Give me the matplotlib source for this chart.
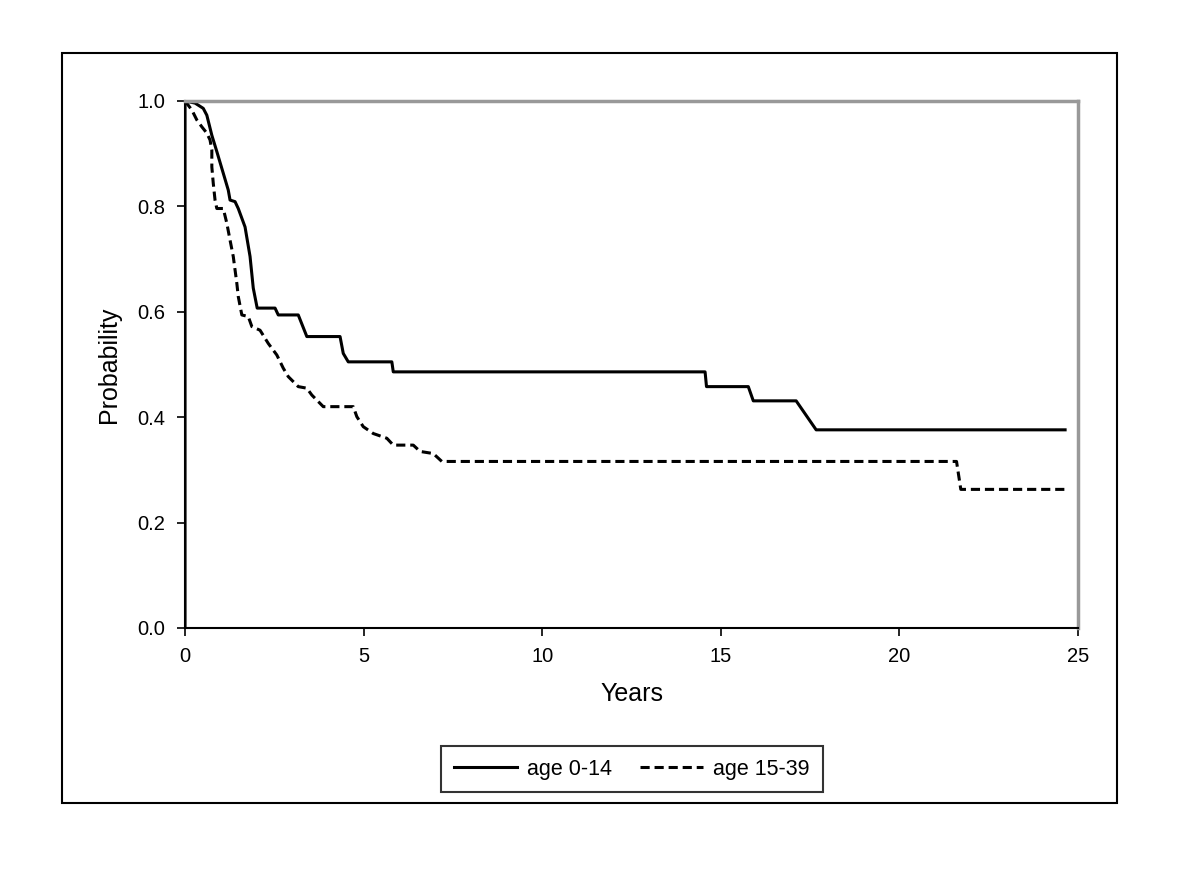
import matplotlib
matplotlib.use('Agg')
import matplotlib.pyplot as plt
from matplotlib.patches import Rectangle

plt.rcParams['font.family'] = ['Liberation Sans', 'DejaVu Sans']

# age 0-14 survival curve
years_young = [0, 0, 0.28, 0.51, 0.61, 0.75, 0.89, 1.07, 1.21, 1.26, 1.40, 1.49, 1.68, 1.82, 1.91,
               2.02, 2.52, 2.61, 3.17, 3.41, 4.34, 4.43, 4.57, 5.79, 5.83, 14.56, 14.60, 15.77,
               15.91, 17.11, 17.67, 24.64]
prob_young = [0.0, 1.0, 0.996, 0.986, 0.973, 0.935, 0.904, 0.863, 0.831, 0.812, 0.809, 0.796, 0.761,
              0.705, 0.645, 0.607, 0.607, 0.594, 0.594, 0.553, 0.553, 0.521, 0.505, 0.505, 0.486,
              0.486, 0.458, 0.458, 0.431, 0.431, 0.376, 0.376]

# age 15-39 survival curve
years_old = [0, 0.19, 0.33, 0.47, 0.61, 0.70, 0.75, 0.75, 0.79, 0.84, 0.89, 1.07, 1.17, 1.26, 1.35,
             1.45, 1.49, 1.59, 1.77, 1.87, 2.10, 2.33, 2.57, 2.75, 2.89, 3.17, 3.41, 3.55, 3.87,
             4.71, 4.81, 4.99, 5.27, 5.65, 5.83, 6.39, 6.58, 6.95, 7.19, 21.60, 21.72, 24.64]
prob_old = [1.0, 0.983, 0.964, 0.951, 0.939, 0.926, 0.907, 0.875, 0.844, 0.812, 0.796, 0.796, 0.768,
            0.736, 0.705, 0.654, 0.629, 0.594, 0.591, 0.572, 0.565, 0.540, 0.518, 0.493, 0.477,
            0.458, 0.455, 0.442, 0.420, 0.420, 0.401, 0.382, 0.369, 0.360, 0.347, 0.347, 0.335,
            0.331, 0.316, 0.316, 0.263, 0.263]

x_ticks = [0, 5, 10, 15, 20, 25]
y_ticks = [0.0, 0.2, 0.4, 0.6, 0.8, 1.0]

fig = plt.figure(figsize=(12, 8.82), dpi=100)
ax = fig.add_axes([0.1542, 0.2880, 0.7441, 0.5975])

ax.plot(years_young, prob_young, color='black', lw=2.2, label='age 0-14')
ax.plot(years_old, prob_old, color='black', lw=2.2, dashes=(3, 1.6), label='age 15-39')

ax.set_xlim(0, 25)
ax.set_ylim(0, 1)
ax.set_xticks(x_ticks)
ax.set_yticks(y_ticks)
ax.set_yticklabels([f'{v:.1f}' for v in y_ticks])
ax.tick_params(direction='out', length=6, width=1.2, labelsize=14.5, pad=8)

for side in ['top', 'right']:
    ax.spines[side].set_color('#999999')
    ax.spines[side].set_linewidth(2.5)
for side in ['left', 'bottom']:
    ax.spines[side].set_color('black')
    ax.spines[side].set_linewidth(1.5)

ax.set_xlabel('Years', fontsize=18, labelpad=11)
ax.set_ylabel('Probability', fontsize=18, labelpad=12)

leg = ax.legend(loc='center', bbox_to_anchor=(0.5267, 1 - 769 / 882), bbox_transform=fig.transFigure,
                ncol=2, fontsize=15.5, frameon=True, fancybox=False, handlelength=2.9,
                handletextpad=0.5, columnspacing=1.3, borderpad=0.6, borderaxespad=0)
leg.get_frame().set_edgecolor('black')
leg.get_frame().set_linewidth(1.5)

# outer chart frame
fig.patches.append(Rectangle((62 / 1200, 1 - 803 / 882), (1117 - 62) / 1200, (803 - 53) / 882,
                             transform=fig.transFigure, fill=False, edgecolor='black', lw=1.5))

fig.savefig('out.png', dpi=100)
